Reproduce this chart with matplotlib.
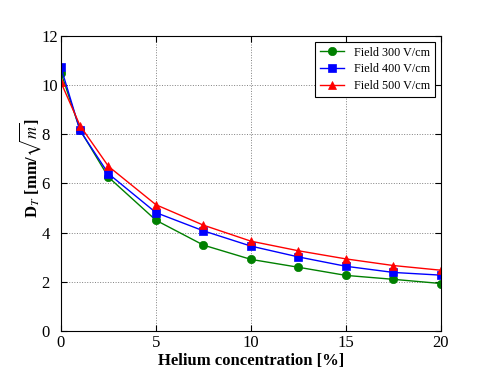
import matplotlib
matplotlib.use("Agg")
import matplotlib.pyplot as plt

plt.rcParams['font.family'] = ['Liberation Serif', 'DejaVu Serif']
plt.rcParams['mathtext.fontset'] = 'stix'

helium = [0, 1, 2.5, 5, 7.5, 10, 12.5, 15, 17.5, 20]
field_300 = [10.5, 8.18, 6.25, 4.50, 3.49, 2.91, 2.59, 2.26, 2.10, 1.93]
field_400 = [10.71, 8.15, 6.39, 4.81, 4.07, 3.45, 3.01, 2.63, 2.38, 2.27]
field_500 = [10.10, 8.35, 6.69, 5.13, 4.30, 3.65, 3.26, 2.93, 2.66, 2.47]

fig = plt.figure(figsize=(4.91, 3.68), dpi=100)
ax = fig.add_axes([0.1242, 0.1005, 0.7739, 0.8025])

ax.plot(helium, field_300, color="green", marker="o", markersize=6, markeredgewidth=0.5,
        linewidth=1, label="Field 300 V/cm")
ax.plot(helium, field_400, color="blue", marker="s", markersize=6, markeredgewidth=0.5,
        linewidth=1, label="Field 400 V/cm")
ax.plot(helium, field_500, color="red", marker="^", markersize=6, markeredgewidth=0.5,
        linewidth=1, label="Field 500 V/cm")

ax.set_xlim(0, 20)
ax.set_ylim(0, 12)
ax.set_xticks([0, 5, 10, 15, 20])
ax.set_yticks([0, 2, 4, 6, 8, 10, 12])
ax.tick_params(direction="in", top=True, right=True, labelsize=12, length=4)
ax.tick_params(axis="x", pad=3)
# y tick labels are left aligned in the original
ax.tick_params(axis="y", pad=14)
for lab in ax.get_yticklabels():
    lab.set_horizontalalignment("left")
ax.grid(True, linestyle=":", color="gray", linewidth=0.7)

ax.set_xlabel("Helium concentration [%]", fontsize=12, fontweight="bold", labelpad=1)
ax.set_ylabel(r"D$_T$ [mm/$\sqrt{m}$]", fontsize=12, fontweight="bold")
ax.yaxis.set_label_coords(-0.048, 0.55)

leg = ax.legend(loc="upper right", fontsize=8.7, numpoints=1, fancybox=False,
                edgecolor="black", framealpha=1, labelspacing=0.4)
leg.get_frame().set_linewidth(0.8)

fig.savefig("out.png", dpi=100)
